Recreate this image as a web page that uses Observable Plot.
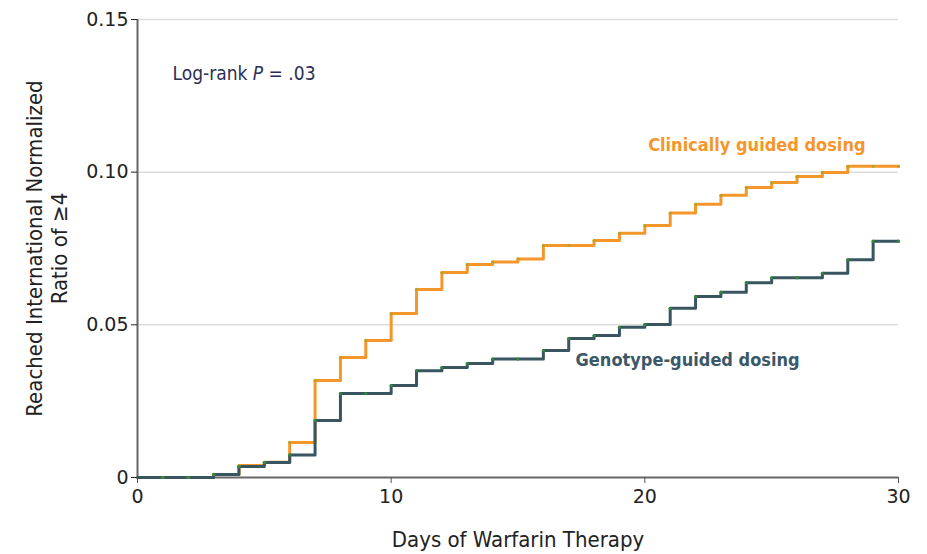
<!DOCTYPE html>
<html><head><meta charset="utf-8">
<script src="https://cdn.jsdelivr.net/npm/d3@7"></script>
<script src="https://cdn.jsdelivr.net/npm/@observablehq/plot@0.6"></script>
<style>
body{margin:0;background:#fff;}
#chart svg{font-family:"DejaVu Sans Condensed","DejaVu Sans",sans-serif;}
</style>
</head><body><div id="chart"></div>
<script>
const days = [0,1,2,3,4,5,6,7,8,9,10,11,12,13,14,15,16,17,18,19,20,21,22,23,24,25,26,27,28,29,30];
const clinical = [0,0,0,0.001,0.0039,0.005,0.0115,0.0318,0.0393,0.0449,0.0537,0.0616,0.0671,0.0698,0.0706,0.0716,0.076,0.076,0.0776,0.080,0.0825,0.0866,0.0895,0.0924,0.095,0.0966,0.0986,0.0999,0.1019,0.1019,0.1019];
const genotype = [0,0,0,0.001,0.0036,0.0049,0.0074,0.0187,0.0275,0.0275,0.0301,0.035,0.036,0.0373,0.0388,0.0388,0.0416,0.0455,0.0465,0.0492,0.0501,0.0554,0.0593,0.0607,0.0638,0.0654,0.0654,0.0669,0.0713,0.0774,0.0774];
const xTicks = [0,10,20,30];
const yTicks = [0,0.05,0.10,0.15];
const seriesNames = ["Clinically guided dosing","Genotype-guided dosing"];
const xLabel = "Days of Warfarin Therapy";
const yLabel = "Reached International Normalized\nRatio of \u22654";

const clin = days.map((d,i)=>({day:d, v:clinical[i]}));
const geno = days.map((d,i)=>({day:d, v:genotype[i]}));

const ORANGE = "#f5962a";
const DARK = "#385560";
const TXT = "#222";
const TICKFONT = '"DejaVu Sans",sans-serif';

const chart = Plot.plot({
  width: 927, height: 554,
  marginLeft: 137, marginRight: 29, marginTop: 19, marginBottom: 77,
  style: {fontFamily: '"DejaVu Sans Condensed","DejaVu Sans",sans-serif', background: "#fff"},
  x: {domain: [0,30]},
  y: {domain: [0,0.15]},
  marks: [
    Plot.gridY(yTicks.filter(d=>d>0), {stroke:"#dcdcdc", strokeOpacity:1, strokeWidth:1.5}),
    Plot.ruleX([0], {stroke:"#666", strokeWidth:2}),
    Plot.ruleY([0], {stroke:"#666", strokeWidth:2}),
    Plot.axisX({ticks: xTicks, tickSize: 6, tickPadding: 6, fontSize: 19, fontFamily: TICKFONT, color: TXT, stroke:"#555", label: null}),
    Plot.axisY({ticks: yTicks, tickSize: 6, tickPadding: 3, fontSize: 19, fontFamily: TICKFONT, color: TXT,
      tickFormat: d => d === 0 ? "0" : d.toFixed(2), label: null}),
    Plot.text([xLabel], {frameAnchor:"bottom", text: d=>d, dy: 69, fontSize: 22, fill: TXT}),
    Plot.text([yLabel], {frameAnchor:"left", text: d=>d, rotate:-90, textAnchor:"middle", dx:-91, fontSize:22, lineHeight:1.12, fill: TXT}),
    Plot.line(clin, {x:"day", y:"v", curve:"step-after", stroke: ORANGE, strokeWidth: 3}),
    Plot.line(geno, {x:"day", y:"v", curve:"step-after", stroke: DARK, strokeWidth: 3}),
    Plot.dot(clin.filter(d=>d.day>0), {x:"day", y:"v", r:1.6, fill:"#b8a324", stroke:"none"}),
    Plot.dot(geno.filter(d=>d.day>0), {x:"day", y:"v", r:1.6, fill:"#2f8a3a", stroke:"none"}),
    Plot.text([seriesNames[0]], {x: 28.7, y: 0.1087, text: d=>d, textAnchor:"end", fontSize:18, fill: ORANGE, fontWeight: "bold"}),
    Plot.text([seriesNames[1]], {x: 17.27, y: 0.0383, text: d=>d, textAnchor:"start", fontSize:18, fill: "#3b5868", fontWeight: "bold"}),
    Plot.text(["Log-rank P = .03"], {x: 1.38, y: 0.1323, text: d=>d, textAnchor:"start", fontSize:19, fill: "#2a2f55"})
  ]
});
document.getElementById("chart").appendChild(chart);
// italicize P
d3.select(chart).selectAll("text").each(function(){
  if (this.textContent === "Log-rank P = .03") {
    const t = d3.select(this); t.text(null);
    t.append("tspan").text("Log-rank ");
    t.append("tspan").attr("font-style","italic").text("P");
    t.append("tspan").text(" = .03");
  }
});
</script>
</body></html>
